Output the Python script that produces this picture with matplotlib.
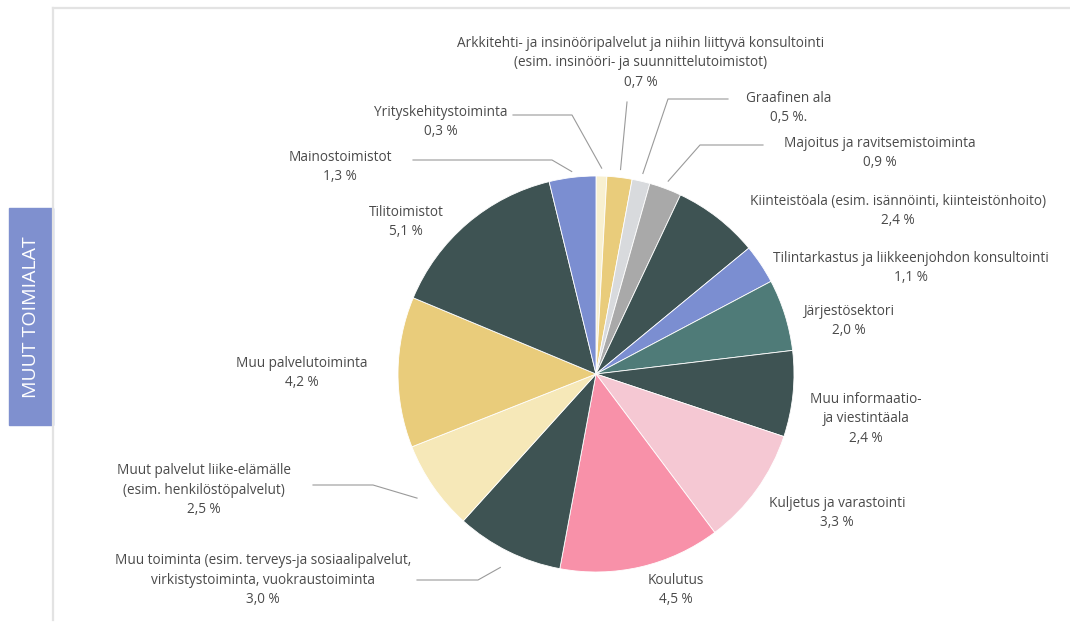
import numpy as np
import matplotlib
matplotlib.use('Agg')
import matplotlib.pyplot as plt

plt.rcParams['font.family'] = ['Open Sans', 'DejaVu Sans']

# data, clockwise from 12 o'clock
labels = [
    'Yrityskehitystoiminta',
    'Arkkitehti- ja insinööripalvelut ja niihin liittyvä konsultointi\n(esim. insinööri- ja suunnittelutoimistot)',
    'Graafinen ala',
    'Majoitus ja ravitsemistoiminta',
    'Kiinteistöala (esim. isännöinti, kiinteistönhoito)',
    'Tilintarkastus ja liikkeenjohdon konsultointi',
    'Järjestösektori',
    'Muu informaatio-\nja viestintäala',
    'Kuljetus ja varastointi',
    'Koulutus',
    'Muu toiminta (esim. terveys-ja sosiaalipalvelut,\nvirkistystoiminta, vuokraustoiminta',
    'Muut palvelut liike-elämälle\n(esim. henkilöstöpalvelut)',
    'Muu palvelutoiminta',
    'Tilitoimistot',
    'Mainostoimistot',
]
values = [0.3, 0.7, 0.5, 0.9, 2.4, 1.1, 2.0, 2.4, 3.3, 4.5, 3.0, 2.5, 4.2, 5.1, 1.3]
# the source prints one value with a trailing dot
pct_suffix = ['', '', '.', '', '', '', '', '', '', '', '', '', '', '', '']

DARK = '#3e5353'
colors = ['#f8f0d0', '#e9cc7b', '#d8dadd', '#a9a9a9', DARK, '#7b8ed1', '#4f7b78',
          DARK, '#f5c8d3', '#f891a9', DARK, '#f6e8b8', '#e9cc7b', DARK, '#7b8ed1']

# label block centres (pixels, from top-left)
label_pos = [(441, 122), (641, 63), (789, 108), (880, 153), (898, 211),
             (911, 268), (849, 321), (866, 419), (837, 513), (676, 590),
             (263, 580), (204, 490), (302, 373), (406, 222), (340, 167)]

# leader lines: index -> (x start, x elbow, y, radius factor)
leaders = {
    0: (513, 572, 115, 1.04),
    1: (627, 627, 102, 1.04),
    2: (728, 668, 99, 1.04),
    3: (763, 700, 145, 1.04),
    14: (413, 552, 160, 1.03),
    11: (313, 373, 485, 1.10),
    10: (417, 478, 580, 1.09),
}

W, H = 1070, 623
CX, CY, R = 596, 374, 198
TXT = '#4a4a4a'

fig = plt.figure(figsize=(W / 100, H / 100), dpi=100)
fig.patch.set_facecolor('white')

# pie axes, square in pixels
pax = fig.add_axes([(CX - 200) / W, (H - CY - 200) / H, 400 / W, 400 / H])
pax.pie(values, colors=colors, startangle=90, counterclock=False, radius=R / 200,
        wedgeprops=dict(edgecolor='white', linewidth=0.6))
pax.set_xlim(-1, 1)
pax.set_ylim(-1, 1)
pax.set_aspect('equal')
pax.axis('off')

# background and overlay axes in pixel coordinates
ax = fig.add_axes([0, 0, 1, 1], zorder=-1)
ax.set_xlim(0, W)
ax.set_ylim(H, 0)
ax.axis('off')
ov = fig.add_axes([0, 0, 1, 1])
ov.set_xlim(0, W)
ov.set_ylim(H, 0)
ov.axis('off')
ov.patch.set_alpha(0)

# frame
ax.plot([53, 53], [8, 620], color='#e3e3e3', lw=1.6)
ax.plot([53, W], [8, 8], color='#e3e3e3', lw=1.6)
ax.add_patch(plt.Rectangle((9, 208), 44, 217, color='#7f90cf'))
ax.text(31, 317, 'MUUT TOIMIALAT', rotation=90,
        ha='center', va='center', color='white', fontsize=14)

# labels
total = sum(values)
cum = np.cumsum([0] + values[:-1])
for i, (lab, v) in enumerate(zip(labels, values)):
    x, y = label_pos[i]
    pct = f'{v:.1f}'.replace('.', ',')
    ov.text(x, y, f'{lab}\n{pct} %{pct_suffix[i]}', ha='center', va='center',
            fontsize=9.8, color=TXT, linespacing=1.42)
    if i in leaders:
        x0, x1, ly, rf = leaders[i]
        mid = (cum[i] + v / 2) / total * 2 * np.pi
        px = CX + R * rf * np.sin(mid)
        py = CY - R * rf * np.cos(mid)
        ov.plot([x0, x1, px], [ly, ly, py], color='#9a9a9a', lw=0.8)

fig.savefig('out.png', dpi=100, facecolor='white')
